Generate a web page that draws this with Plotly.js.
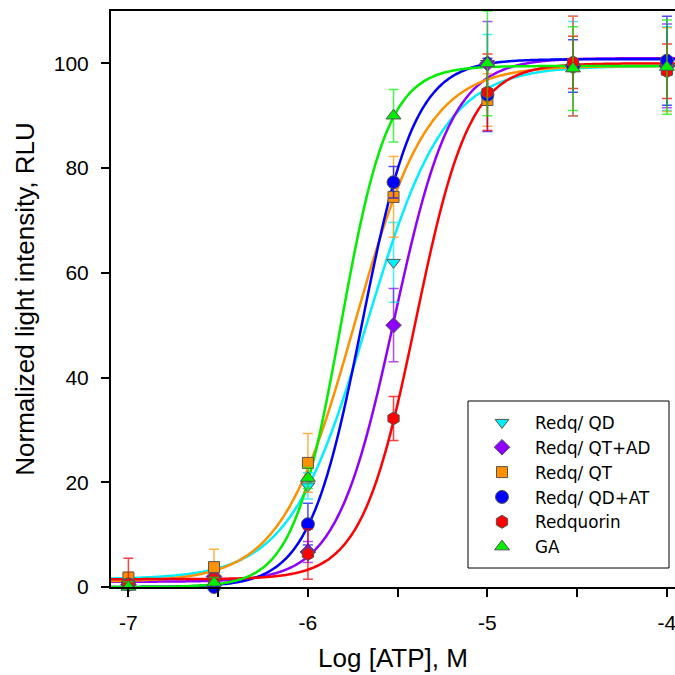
<!DOCTYPE html>
<html>
<head>
<meta charset="utf-8">
<script src="https://cdn.plot.ly/plotly-3.0.1.min.js"></script>
<style>html,body{margin:0;padding:0;background:#fff;}#chart{width:675px;height:675px;}</style>
</head>
<body>
<div id="chart"></div>
<script>
// Log [ATP] concentrations
const logATP = [-7, -6.523, -6, -5.523, -5, -4.523, -4];

const seriesNames = ["Redq/ QD", "Redq/ QT+AD", "Redq/ QT", "Redq/ QD+AT", "Redquorin", "GA"];

// mean normalized intensity
const yQD     = [0.5, 1.5, 19.3, 62.0, 100.0, 99.0, 99.0];
const yQTAD   = [0.5, 2.0, 6.7, 50.0, 100.0, 99.5, 99.5];
const yQT     = [1.8, 3.8, 23.7, 74.5, 93.0, 99.5, 98.8];
const yQDAT   = [0.5, 0.0, 12.0, 77.3, 94.0, 99.5, 100.5];
const yRedq   = [0.5, 1.5, 6.3, 32.2, 94.5, 100.2, 98.5];
const yGA     = [0.0, 0.8, 20.8, 90.0, 100.0, 99.0, 99.3];

// error (±)
const eQD     = [1.0, 1.0, 2.5, 7.6, 5.5, 9.0, 8.0];
const eQTAD   = [1.0, 1.0, 2.0, 7.0, 8.0, 9.5, 8.0];
const eQT     = [1.0, 3.4, 5.6, 7.7, 5.0, 9.5, 8.0];
const eQDAT   = [1.0, 1.0, 4.0, 3.0, 7.0, 5.0, 8.5];
const eRedq   = [5.0, 1.0, 4.8, 4.2, 7.3, 5.0, 5.2];
const eGA     = [1.0, 1.0, 2.0, 5.0, 10.0, 8.0, 9.0];

// fitted sigmoid (Hill) parameters
const fitBottom  = [1.5, 1.0, 1.0, 0.0, 1.5, 0.0];
const fitTop     = [99.5, 101.0, 99.5, 100.8, 100.0, 99.5];
const fitLogEC50 = [-5.67, -5.52, -5.74, -5.698, -5.40, -5.818];
const fitHill    = [2.0, 2.7, 2.12, 2.93, 2.88, 3.27];

const yAll = [yQD, yQTAD, yQT, yQDAT, yRedq, yGA];
const eAll = [eQD, eQTAD, eQT, eQDAT, eRedq, eGA];

const colors  = ["#00F0FF", "#8F00FF", "#FF9000", "#0000FF", "#FF0000", "#00EE00"];
const errCols = ["rgba(0,235,255,0.75)", "rgba(143,0,255,0.7)", "rgba(255,144,0,0.7)", "rgba(0,0,255,0.7)", "rgba(255,0,0,0.75)", "rgba(0,238,0,0.7)"];
const symbols = ["triangle-down", "diamond", "square", "circle", "hexagon", "triangle-up"];
const sizes   = [12, 12, 11, 13, 13, 13];

const xMin = -7.097, xMax = -3.955;
const curveX = [];
for (let i = 0; i <= 300; i++) curveX.push(xMin + (xMax - xMin) * i / 300);

const traces = [];
for (let s = 0; s < seriesNames.length; s++) {
  const cy = curveX.map(x => fitBottom[s] + (fitTop[s] - fitBottom[s]) / (1 + Math.pow(10, (fitLogEC50[s] - x) * fitHill[s])));
  traces.push({
    x: curveX, y: cy, type: "scatter", mode: "lines",
    line: {color: colors[s], width: 2.5, shape: "spline"},
    showlegend: false, hoverinfo: "skip", cliponaxis: true
  });
}
for (let s = 0; s < seriesNames.length; s++) {
  traces.push({
    x: logATP, y: yAll[s], type: "scatter", mode: "markers", name: seriesNames[s],
    marker: {symbol: symbols[s], size: sizes[s], color: colors[s], line: {color: "#555555", width: 1}},
    error_y: {type: "data", array: eAll[s], visible: true, color: errCols[s], thickness: 1.5, width: 5},
    cliponaxis: false
  });
}

const layout = {
  width: 675, height: 675,
  margin: {l: 111, r: 0, t: 11, b: 88},
  paper_bgcolor: "#fff", plot_bgcolor: "#fff",
  font: {family: "Liberation Sans, Arial, sans-serif", color: "#000"},
  showlegend: true,
  xaxis: {
    range: [xMin, xMax], showgrid: false, zeroline: false,
    showline: true, linecolor: "#000", linewidth: 2, mirror: true,
    ticks: "outside", ticklen: 8, tickwidth: 2, tickcolor: "#000",
    tickvals: [-7, -6.5, -6, -5.5, -5, -4.5, -4],
    ticktext: ["-7", "", "-6", "", "-5", "", "-4"],
    tickfont: {size: 21}, ticklabelstandoff: 8, ticklabeloverflow: "allow",
    title: {text: "Log [ATP], M", font: {size: 26}, standoff: 16}
  },
  yaxis: {
    range: [0, 110], showgrid: false, zeroline: false,
    showline: true, linecolor: "#000", linewidth: 2,
    ticks: "outside", ticklen: 8, tickwidth: 2, tickcolor: "#000",
    tickvals: [0, 20, 40, 60, 80, 100],
    tickfont: {size: 21}, ticklabelstandoff: 8,
    title: {text: "Normalized light intensity, RLU", font: {size: 26}, standoff: 12}
  },
  legend: {
    x: (469 - 111) / 564, y: (587 - 405) / 576, xanchor: "left", yanchor: "top",
    bgcolor: "rgba(0,0,0,0)", borderwidth: 0,
    font: {size: 16.8, family: "DejaVu Sans, sans-serif"}, itemwidth: 56, tracegroupgap: 0
  },
  shapes: [{
    type: "rect", xref: "paper", yref: "paper",
    x0: (468 - 111) / 564, x1: (669 - 111) / 564,
    y0: (587 - 568) / 576, y1: (587 - 401) / 576,
    line: {color: "#000", width: 1}, fillcolor: "rgba(0,0,0,0)", layer: "above"
  }]
};

Plotly.newPlot("chart", traces, layout, {displayModeBar: false, staticPlot: true});
</script>
</body>
</html>
